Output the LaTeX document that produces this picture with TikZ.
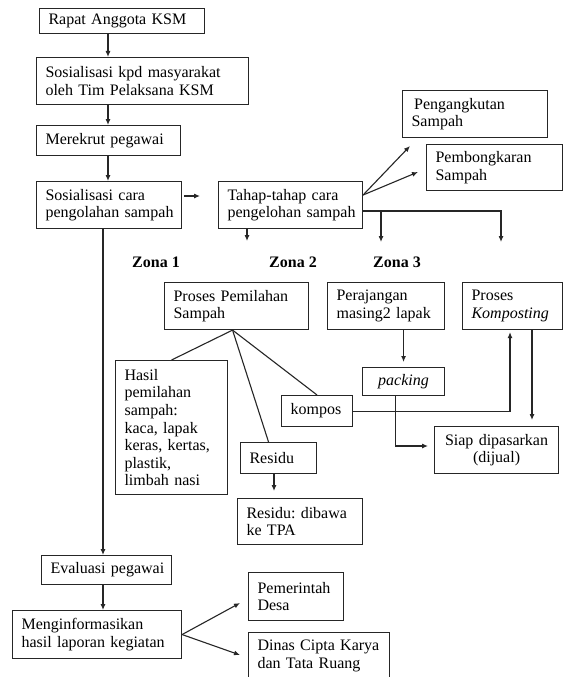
\documentclass[tikz,border=0pt]{standalone}
\usepackage{fontspec}
\setmainfont{Liberation Serif}
\usetikzlibrary{arrows.meta}
\frenchspacing
\hyphenpenalty=10000
\exhyphenpenalty=10000
\hbadness=10000
\hfuzz=50pt
\begin{document}
\begin{tikzpicture}[x=1pt,y=-1pt,
  box/.style={draw=black!85, line width=1.1pt, anchor=north west, inner xsep=9pt, inner ysep=1pt,
    align=left, font=\fontsize{16}{17.6}\selectfont},
  cbox/.style={box, align=center},
  arr/.style={draw=black!85, line width=1.1pt, -{Latex[length=6pt,width=5pt]}},
  ln/.style={draw=black!85, line width=1.1pt},
  zona/.style={font=\fontsize{16}{17.6}\selectfont\bfseries, inner sep=0pt}]
\fill[white] (0,0) rectangle (563,677);
\useasboundingbox (0,0) rectangle (563,677);

% left column
\node[box, minimum width=165pt, minimum height=25pt, text width=147pt] (rapat) at (39,8) {Rapat~Anggota~KSM};
\node[box, minimum width=212pt, minimum height=47pt, text width=194pt] (sos1) at (36,57) {Sosialisasi~kpd~masyarakat\\oleh~Tim~Pelaksana~KSM};
\node[box, minimum width=144pt, minimum height=30pt, text width=126pt] (rekrut) at (36,125) {Merekrut~pegawai};
\node[box, minimum width=145pt, minimum height=47pt, text width=127pt] (sos2) at (36,181) {Sosialisasi~cara\\pengolahan~sampah};
\node[box, minimum width=130pt, minimum height=29pt, text width=112pt] (eval) at (41,555) {Evaluasi~pegawai};
\node[box, minimum width=169pt, minimum height=48pt, text width=151pt] (info) at (12,610) {Menginformasikan\\hasil~laporan~kegiatan};
\node[box, minimum width=95pt, minimum height=48pt, text width=77pt] (pemdes) at (248,572) {Pemerintah\\Desa};
\node[box, minimum width=141pt, minimum height=47pt, text width=123pt] (dinas) at (248,632) {Dinas~Cipta~Karya\\dan~Tata~Ruang};

% upper right
\node[box, minimum width=144pt, minimum height=47pt, text width=126pt] (tahap) at (218,181) {Tahap-tahap~cara\\pengelohan~sampah};
\node[box, minimum width=145pt, minimum height=47pt, text width=127pt] (angkut) at (402,90) {\,Pengangkutan\\Sampah};
\node[box, minimum width=136pt, minimum height=46pt, text width=118pt] (bongkar) at (426,144) {Pembongkaran\\Sampah};

% zones
\node[zona] (z1) at (156,262) {Zona 1};
\node[zona] (z2) at (293,262) {Zona 2};
\node[zona] (z3) at (397,262) {Zona 3};

\node[box, minimum width=144pt, minimum height=47pt, text width=126pt] (pilah) at (164,282) {Proses~Pemilahan\\Sampah};
\node[box, minimum width=117pt, minimum height=47pt, text width=99pt] (rajang) at (327,282) {Perajangan\\masing2~lapak};
\node[box, minimum width=100pt, minimum height=47pt, text width=82pt] (kompost) at (462,282) {Proses\\\textit{Komposting}};
\node[cbox, minimum width=82pt, minimum height=28pt, text width=64pt] (packing) at (362,367) {\textit{packing}};
\node[box, minimum width=112pt, minimum height=134pt, text width=94pt] (hasil) at (115,360) {Hasil\\pemilahan\\sampah:\\kaca,~lapak\\keras,~kertas,\\plastik,\\limbah~nasi};
\node[box, minimum width=71pt, minimum height=31pt, text width=53pt] (kompos) at (281,395) {kompos};
\node[box, minimum width=76pt, minimum height=31pt, text width=58pt] (residu) at (240,442) {Residu};
\node[box, minimum width=125pt, minimum height=46pt, text width=107pt] (tpa) at (237,498) {Residu:~dibawa\\ke~TPA};
\node[cbox, minimum width=124pt, minimum height=47pt, text width=106pt] (siap) at (434,426) {Siap~dipasarkan\\(dijual)};

% helper coordinates
\coordinate (xa) at (108,0);
\coordinate (xb) at (103,0);
\coordinate (sy) at (0,196);
\coordinate (t1) at (247,241);
\coordinate (ty) at (0,195);
\coordinate (a1) at (410,146);
\coordinate (a2) at (418,172);
\coordinate (hy) at (0,211);
\coordinate (h1) at (381,242);
\coordinate (h2) at (501,242);
\coordinate (py) at (0,446);
\coordinate (kx) at (510,0);
\coordinate (kx2) at (532,0);
\coordinate (rx) at (274,0);
\coordinate (d1) at (240,603);
\coordinate (d2) at (240,655);

% left column arrows
\draw[arr] (rapat.south -| xa) -- (sos1.north -| xa);
\draw[arr] (sos1.south -| xa) -- (rekrut.north -| xa);
\draw[arr] (rekrut.south -| xa) -- (sos2.north -| xa);
\draw[arr] (sos2.south -| xb) -- (eval.north -| xb);
\draw[arr] (eval.south -| xb) -- (info.north -| xb);
\draw[arr] ([xshift=2pt]sos2.east |- sy) -- ([xshift=-18pt]tahap.west |- sy);
\draw[arr] (info.east) -- (d1);
\draw[arr] (info.east) -- (d2);

% tahap arrows
\draw[arr] (tahap.south -| t1) -- (t1);
\draw[arr] (tahap.east |- ty) -- (a1);
\draw[arr] (tahap.east |- ty) -- (a2);
\draw[arr] (tahap.east |- hy) -| (h2);
\draw[arr] (h1 |- hy) -- (h1);

% zone flows
\draw[ln] ([xshift=-4pt]pilah.south) -- (hasil.north);
\draw[ln] ([xshift=-4pt]pilah.south) -- ([xshift=-10pt]residu.north);
\draw[ln] ([xshift=-4pt]pilah.south) -- (kompos.north);
\draw[arr] (rajang.south -| packing.north) -- ([yshift=5pt]packing.north);
\draw[arr] ([xshift=-8pt]packing.south) |- ([xshift=-6pt]siap.west |- py);
\draw[arr] (kompos.east) -| ([yshift=-2pt]kompost.south -| kx);
\draw[arr] (kompost.south -| kx2) -- ([yshift=6pt]siap.north -| kx2);
\draw[arr] (residu.south -| rx) -- ([yshift=7pt]tpa.north -| rx);
\end{tikzpicture}
\end{document}
